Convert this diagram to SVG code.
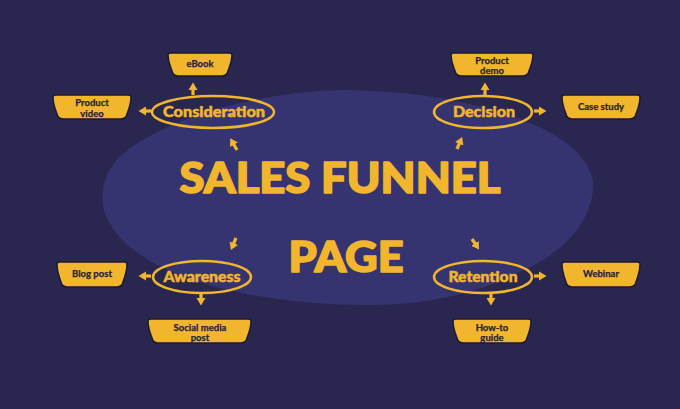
<svg xmlns="http://www.w3.org/2000/svg" width="680" height="409" viewBox="0 0 680 409">
<defs>
<style>
.box{fill:#f1b52e;stroke:#1c1933;stroke-width:1.5}
.bt{font-family:Lato,"Liberation Sans",sans-serif;font-weight:700;font-size:9.5px;fill:#26223a;text-anchor:middle;stroke:#26223a;stroke-width:0.25}
.ell{fill:none;stroke:#f1b52e;stroke-width:2.5}
.et{font-family:Lato,"Liberation Sans",sans-serif;font-weight:900;font-size:15px;fill:#f1b52e;text-anchor:middle;stroke:#f1b52e;stroke-width:0.5}
.title{font-family:Lato,"Liberation Sans",sans-serif;font-weight:900;font-size:42px;fill:#f1b52e;text-anchor:middle;stroke:#f1b52e;stroke-width:1.6;stroke-linejoin:round}
.arr{stroke:#f1b52e;stroke-width:3.2;fill:none;marker-end:url(#ah)}
</style>
<marker id="ah" markerUnits="userSpaceOnUse" markerWidth="10" markerHeight="10" refX="2" refY="5" orient="auto">
<path d="M0,0.5 L7.5,5 L0,9.5 Z" fill="#f1b52e"/>
</marker>
</defs>
<rect width="680" height="409" fill="#29274f"/>
<path d="M103,205 C100,180 112,158 138,143 C190,110 270,92 340,90 C430,90 530,110 575,150 C588,163 595,178 593,190 C590,225 560,255 520,272 C480,292 430,305 370,305 C300,305 230,295 180,275 C140,260 108,235 103,205 Z" fill="#363470"/>

<g id="title">
<text class="title" x="340" y="193" textLength="321" lengthAdjust="spacingAndGlyphs">SALES FUNNEL</text>
<text class="title" x="346" y="272" textLength="115" lengthAdjust="spacingAndGlyphs">PAGE</text>
</g>

<g id="consideration">
<ellipse class="ell" cx="213" cy="112" rx="61" ry="16"/>
<text class="et" x="214" y="117" textLength="102" lengthAdjust="spacingAndGlyphs">Consideration</text>
</g>
<g id="decision">
<ellipse class="ell" cx="483" cy="112" rx="49" ry="16"/>
<text class="et" x="484" y="117" textLength="62" lengthAdjust="spacingAndGlyphs">Decision</text>
</g>
<g id="awareness">
<ellipse class="ell" cx="202" cy="277" rx="49" ry="16"/>
<text class="et" x="202" y="282" textLength="77" lengthAdjust="spacingAndGlyphs">Awareness</text>
</g>
<g id="retention">
<ellipse class="ell" cx="483" cy="277" rx="49" ry="16"/>
<text class="et" x="483" y="282" textLength="69" lengthAdjust="spacingAndGlyphs">Retention</text>
</g>

<g id="ebook">
<path class="box" d="M168,55 Q168,53 171,53 L229,53 Q232,53 232,55 C232,63 229,68 228,71 Q227,76 222,76 L178,76 Q173,76 172,71 C171,68 168,63 168,55 Z"/>
<text class="bt" x="200" y="66.5">eBook</text>
</g>
<g id="product-video">
<path class="box" d="M53,97 Q53,95 56,95 L128,95 Q131,95 131,97 C131,105 128,111 127,114 Q126,119 121,119 L63,119 Q58,119 57,114 C56,111 53,105 53,97 Z"/>
<text class="bt" x="92" y="105.5">Product</text>
<text class="bt" x="92" y="116.5">video</text>
</g>
<g id="product-demo">
<path class="box" d="M451,55 Q451,53 454,53 L530,53 Q533,53 533,55 C533,63 530,68 529,71 Q528,76 523,76 L461,76 Q456,76 455,71 C454,68 451,63 451,55 Z"/>
<text class="bt" x="492" y="63.5">Product</text>
<text class="bt" x="492" y="73.5">demo</text>
</g>
<g id="case-study">
<path class="box" d="M562,97 Q562,95 565,95 L637,95 Q640,95 640,97 C640,105 637,111 636,114 Q635,119 630,119 L572,119 Q567,119 566,114 C565,111 562,105 562,97 Z"/>
<text class="bt" x="601" y="109.5">Case study</text>
</g>
<g id="blog-post">
<path class="box" d="M57,264 Q57,262 60,262 L124,262 Q127,262 127,264 C127,272 124,279 123,282 Q122,287 117,287 L67,287 Q62,287 61,282 C60,279 57,272 57,264 Z"/>
<text class="bt" x="92" y="276.5">Blog post</text>
</g>
<g id="social-media-post">
<path class="box" d="M148,321 Q148,319 151,319 L248,319 Q251,319 251,321 C251,329 248,335 247,338 Q246,343 241,343 L158,343 Q153,343 152,338 C151,335 148,329 148,321 Z"/>
<text class="bt" x="200" y="330.5">Social media</text>
<text class="bt" x="200" y="340.5">post</text>
</g>
<g id="webinar">
<path class="box" d="M562,264 Q562,262 565,262 L637,262 Q640,262 640,264 C640,272 637,279 636,282 Q635,287 630,287 L572,287 Q567,287 566,282 C565,279 562,272 562,264 Z"/>
<text class="bt" x="601" y="276.5">Webinar</text>
</g>
<g id="how-to-guide">
<path class="box" d="M453,321 Q453,319 456,319 L528,319 Q531,319 531,321 C531,329 528,335 527,338 Q526,343 521,343 L463,343 Q458,343 457,338 C456,335 453,329 453,321 Z"/>
<text class="bt" x="492" y="330.5">How-to</text>
<text class="bt" x="492" y="340.5">guide</text>
</g>

<g id="connectors">
<line class="arr" x1="193" y1="95" x2="193" y2="88"/>
<line class="arr" x1="151" y1="111" x2="144" y2="111"/>
<line class="arr" x1="237" y1="150" x2="233" y2="143"/>
<line class="arr" x1="485" y1="95" x2="485" y2="88"/>
<line class="arr" x1="534" y1="111" x2="541" y2="111"/>
<line class="arr" x1="457" y1="149" x2="460" y2="142"/>
<line class="arr" x1="236" y1="238" x2="233" y2="245"/>
<line class="arr" x1="151" y1="276" x2="144" y2="276"/>
<line class="arr" x1="201" y1="294" x2="201" y2="300"/>
<line class="arr" x1="472" y1="239" x2="476" y2="245"/>
<line class="arr" x1="534" y1="276" x2="541" y2="276"/>
<line class="arr" x1="491" y1="294" x2="491" y2="300"/>
</g>
</svg>
